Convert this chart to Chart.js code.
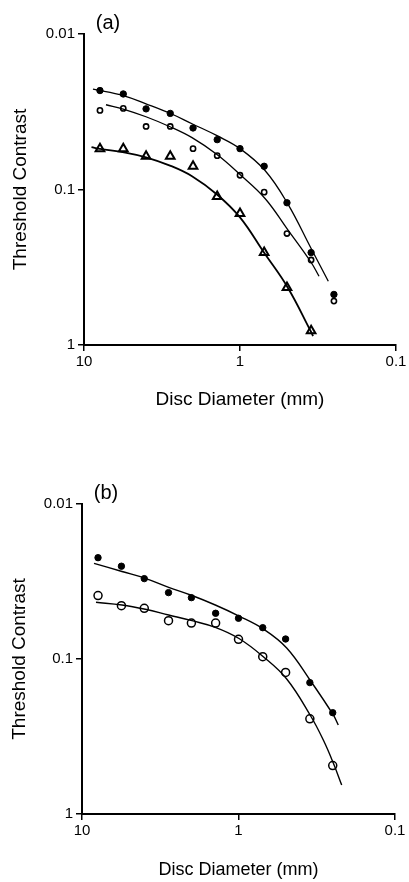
<!DOCTYPE html>
<html>
<head>
<meta charset="utf-8">
<script src="https://cdn.jsdelivr.net/npm/chart.js@4.4.1/dist/chart.umd.min.js"></script>
<style>
  html, body { margin: 0; padding: 0; background: #ffffff; }
  body { width: 409px; height: 882px; position: relative; overflow: hidden; }
  canvas { position: absolute; left: 0; }
</style>
</head>
<body>
<canvas id="chartA" width="409" height="441" style="top:0px"></canvas>
<canvas id="chartB" width="409" height="441" style="top:441px"></canvas>
<script>
// ---------- data (disc diameter in mm, threshold contrast) ----------
const diameters = [7.9, 5.6, 4.0, 2.8, 2.0, 1.4, 1.0, 0.7, 0.5, 0.35, 0.25];

// panel (a)
const aFilled   = [0.0231, 0.0243, 0.0303, 0.0324, 0.0402, 0.0478, 0.0546, 0.0709, 0.1217, 0.2545, 0.473];
const aOpen     = [0.0310, 0.0301, 0.0393, 0.0393, 0.0546, 0.0606, 0.0810, 0.104, 0.192, 0.284, 0.522];
const aTriangle = [0.0546, 0.0546, 0.0612, 0.0612, 0.0709, 0.111, 0.1425, 0.2545, 0.427, 0.81];

// fitted curves, panel (a)
const aFilledFitX = [8.76, 5.54, 4.005, 2.81, 2.03, 1.404, 1.0, 0.691, 0.496, 0.3506, 0.2716];
const aFilledFitY = [0.02262, 0.02496, 0.0281, 0.03233, 0.03777, 0.04507, 0.0546, 0.07553, 0.1229, 0.2388, 0.3889];
const aOpenFitX   = [7.228, 5.54, 4.005, 2.81, 2.03, 1.404, 1.0, 0.691, 0.496, 0.3506, 0.3116];
const aOpenFitY   = [0.02851, 0.03048, 0.03405, 0.03947, 0.04642, 0.05964, 0.08013, 0.1142, 0.1805, 0.2937, 0.3611];
const aTriFitX    = [8.953, 7.895, 5.54, 4.005, 2.81, 2.03, 1.404, 1.0, 0.7017, 0.4946, 0.3506, 0.3404];
const aTriFitY    = [0.0534, 0.05484, 0.05766, 0.06208, 0.07019, 0.08218, 0.1077, 0.1512, 0.2545, 0.4267, 0.8218, 0.8756];

// panel (b)
const bFilled = [0.0222, 0.0252, 0.0303, 0.0373, 0.0402, 0.0507, 0.0546, 0.0628, 0.0743, 0.142, 0.222];
const bOpen   = [0.0390, 0.0453, 0.0471, 0.0566, 0.0586, 0.0586, 0.0747, 0.0966, 0.122, 0.243, 0.487];

// fitted curves, panel (b)
const bFilledFitX = [8.38, 5.553, 3.94, 2.793, 1.982, 1.407, 0.9927, 0.6944, 0.492, 0.3458, 0.2479, 0.2304];
const bFilledFitY = [0.02414, 0.02726, 0.03016, 0.03447, 0.03894, 0.04484, 0.05281, 0.064, 0.0849, 0.1387, 0.2297, 0.2667];
const bOpenFitX   = [8.14, 5.553, 3.94, 2.793, 1.982, 1.407, 0.9927, 0.6944, 0.492, 0.3458, 0.2871, 0.2479, 0.2191];
const bOpenFitY   = [0.04308, 0.04484, 0.04779, 0.052, 0.0566, 0.06245, 0.07374, 0.09665, 0.1346, 0.2332, 0.3332, 0.4688, 0.65];

// axes
const xTickValues = [10, 1, 0.1];
const xTickLabels = ['10', '1', '0.1'];
const yTickValues = [0.01, 0.1, 1];
const yTickLabels = ['0.01', '0.1', '1'];
const xTitle = 'Disc Diameter (mm)';
const yTitle = 'Threshold Contrast';

// ---------- helpers ----------
const FONT = "'Liberation Sans', Arial, Helvetica, sans-serif";
function pts(xs, ys) { return ys.map((y, i) => ({ x: xs[i], y: y })); }

function markerSet(ys, style) {
  return Object.assign({
    type: 'line', data: pts(diameters, ys), showLine: false,
    borderColor: '#000', pointBorderColor: '#000'
  }, style);
}
function fitSet(xs, ys, width) {
  return {
    type: 'line', data: pts(xs, ys), showLine: true, pointRadius: 0,
    borderColor: '#000', borderWidth: width, tension: 0.4, fill: false
  };
}

const panelLabel = {
  id: 'panelLabel',
  afterDraw(chart, args, opts) {
    const ctx = chart.ctx;
    ctx.save();
    ctx.fillStyle = '#000';
    ctx.font = '20px ' + FONT;
    ctx.textAlign = 'center';
    ctx.textBaseline = 'middle';
    ctx.fillText(opts.text, opts.x, opts.y);
    ctx.restore();
  }
};

function makeChart(id, datasets, g) {
  return new Chart(document.getElementById(id), {
    data: { datasets: datasets },
    plugins: [panelLabel],
    options: {
      responsive: false, animation: false, devicePixelRatio: 1,
      layout: { padding: { top: g.top, right: g.right, bottom: 0, left: 0 } },
      plugins: {
        legend: { display: false }, tooltip: { enabled: false },
        panelLabel: { text: g.label, x: g.labelX, y: g.labelY }
      },
      scales: {
        x: {
          type: 'logarithmic', position: 'bottom', min: 0.1, max: 10, reverse: true,
          afterBuildTicks: s => { s.ticks = xTickValues.map(v => ({ value: v })); },
          afterFit: s => { s.height = g.xHeight; },
          ticks: {
            color: '#000', font: { family: FONT, size: 15 }, padding: 2, autoSkip: false, maxRotation: 0,
            callback: (v, i) => xTickLabels[i]
          },
          grid: { display: true, drawOnChartArea: false, drawTicks: true, tickLength: 6, color: '#000', lineWidth: 1.5 },
          border: { display: true, color: '#000', width: 2 },
          title: { display: true, text: xTitle, color: '#000', font: { family: FONT, size: g.xTitleSize }, padding: { top: 0, bottom: g.xTitlePad } }
        },
        y: {
          type: 'logarithmic', position: 'left', min: 0.01, max: 1, reverse: true,
          afterBuildTicks: s => { s.ticks = yTickValues.map(v => ({ value: v })); },
          afterFit: s => { s.width = g.yWidth; },
          ticks: {
            color: '#000', font: { family: FONT, size: 15 }, padding: 3, autoSkip: false,
            callback: (v, i) => yTickLabels[i]
          },
          grid: { display: true, drawOnChartArea: false, drawTicks: true, tickLength: 6, color: '#000', lineWidth: 1.5 },
          border: { display: true, color: '#000', width: 2 },
          title: { display: true, text: yTitle, color: '#000', font: { family: FONT, size: 19 }, padding: { top: g.yTitlePad, bottom: 0 } }
        }
      }
    }
  });
}

// ---------- panel (a) ----------
makeChart('chartA', [
  fitSet(aFilledFitX, aFilledFitY, 1.3),
  fitSet(aOpenFitX, aOpenFitY, 1.3),
  fitSet(aTriFitX, aTriFitY, 1.8),
  markerSet(aFilled, { pointStyle: 'circle', pointRadius: 3.2, pointBackgroundColor: '#000', pointBorderWidth: 1 }),
  markerSet(aOpen, { pointStyle: 'circle', pointRadius: 2.6, pointBackgroundColor: 'rgba(255,255,255,0)', pointBorderWidth: 1.6 }),
  {
    type: 'line', data: pts(diameters.slice(0, aTriangle.length), aTriangle), showLine: false,
    pointStyle: 'triangle', pointRadius: 5, pointBackgroundColor: 'rgba(255,255,255,0)',
    pointBorderColor: '#000', pointBorderWidth: 2, borderColor: '#000'
  }
], { top: 34, right: 13, yWidth: 84, xHeight: 96, xTitleSize: 19, xTitlePad: 30, yTitlePad: 9,
     label: '(a)', labelX: 108, labelY: 23 });

// ---------- panel (b) ----------
makeChart('chartB', [
  fitSet(bFilledFitX, bFilledFitY, 1.4),
  fitSet(bOpenFitX, bOpenFitY, 1.4),
  markerSet(bFilled, { pointStyle: 'circle', pointRadius: 3.2, pointBackgroundColor: '#000', pointBorderWidth: 1 }),
  markerSet(bOpen, { pointStyle: 'circle', pointRadius: 4, pointBackgroundColor: 'rgba(255,255,255,0)', pointBorderWidth: 1.5 })
], { top: 63, right: 14, yWidth: 82, xHeight: 68, xTitleSize: 18, xTitlePad: 1, yTitlePad: 8,
     label: '(b)', labelX: 106, labelY: 52 });
</script>
</body>
</html>
